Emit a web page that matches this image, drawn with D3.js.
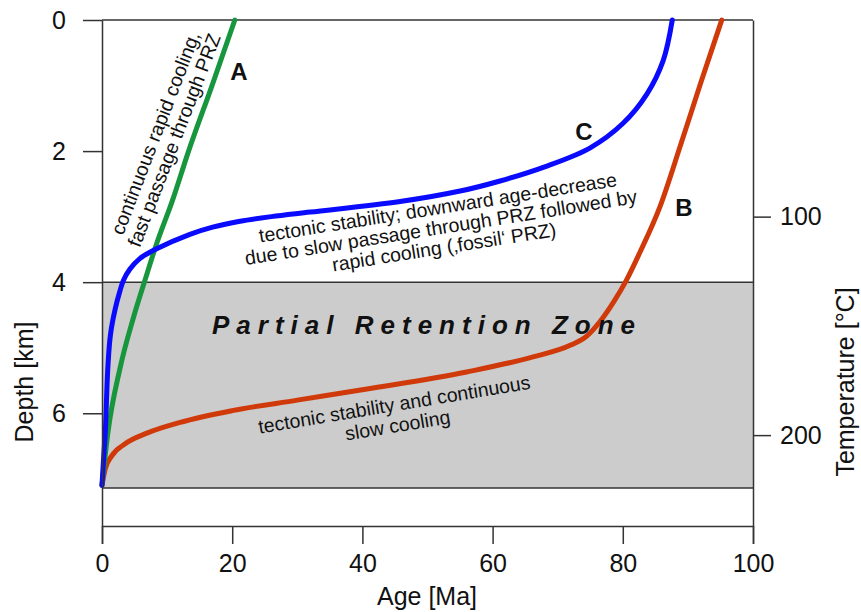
<!DOCTYPE html>
<html>
<head>
<meta charset="utf-8">
<script src="https://cdn.jsdelivr.net/npm/d3@7"></script>
<style>
  body { margin: 0; background: #fff; }
  svg text { font-family: 'Liberation Sans', Arial, sans-serif; fill: #111; }
</style>
</head>
<body>
<div id="chart"></div>
<script>
// cooling paths, [age Ma, depth km]
let curveA = [[0, 7.1], [0.9, 6.3], [2.8, 5.3], [4.8, 4.55], [6.6, 3.97], [8.4, 3.41], [10.8, 2.76], [13.3, 2.0], [16.9, 1.0], [20.4, 0]]
let curveB = [[0, 7.1], [0.5, 6.85], [1.5, 6.65], [3.5, 6.47], [7, 6.3], [12, 6.14], [20, 5.96], [30, 5.8], [40.7, 5.63], [56, 5.37], [66.2, 5.14], [72, 4.96], [74.5, 4.82], [76.5, 4.6], [78.6, 4.3], [80.5, 3.98], [82.6, 3.55], [85.7, 2.85], [88.9, 1.9], [92, 0.95], [95.2, 0]]
let curveC = [[0, 7.1], [0.3, 6.6], [0.5, 6.3], [0.9, 5.3], [1.3, 4.8], [2.0, 4.42], [2.8, 4.12], [3.3, 3.97], [4.3, 3.8], [5.8, 3.64], [8.4, 3.49], [13.5, 3.27], [17, 3.16], [21.2, 3.07], [26, 3.0], [32, 2.93], [45.8, 2.77], [55, 2.61], [61, 2.46], [68, 2.24], [75, 1.95], [80, 1.58], [83.7, 1.13], [86.2, 0.62], [87.6, 0]]

let ageTicks = [0, 20, 40, 60, 80, 100]
let depthTicks = [0, 2, 4, 6]
let tempTicks = [100, 200]
let przTop = 4
let przBottom = 7.14
let depthMax = 7.72
let surfaceTemp = 10
let gradient = 30 // °C per km

let svg = d3
  .select('#chart')
  .append('svg')
  .attr('width', 861)
  .attr('height', 612)

let xPositionScale = d3.scaleLinear().domain([0, 100]).range([102, 753])
let yPositionScale = d3.scaleLinear().domain([0, depthMax]).range([20, 526])
let tempScale = d3
  .scaleLinear()
  .domain([surfaceTemp, surfaceTemp + gradient * depthMax])
  .range([20, 526])

// partial retention zone
svg
  .append('rect')
  .attr('x', xPositionScale(0))
  .attr('y', yPositionScale(przTop))
  .attr('width', xPositionScale(100) - xPositionScale(0))
  .attr('height', yPositionScale(przBottom) - yPositionScale(przTop))
  .attr('fill', '#cccccc')

svg
  .selectAll('.prz-line')
  .data([przTop, przBottom, 0])
  .enter()
  .append('line')
  .attr('x1', xPositionScale(0))
  .attr('x2', xPositionScale(100))
  .attr('y1', d => yPositionScale(d))
  .attr('y2', d => yPositionScale(d))
  .attr('stroke', '#333')
  .attr('stroke-width', 1.5)

let line = d3
  .line()
  .x(d => xPositionScale(d[0]))
  .y(d => yPositionScale(d[1]))

let paths = [
  { data: curveB, color: '#d03a0a', curve: d3.curveMonotoneX },
  { data: curveA, color: '#17963d', curve: d3.curveMonotoneX },
  { data: curveC, color: '#0a0aff', curve: d3.curveCatmullRom.alpha(0.5) }
]

svg
  .selectAll('.path')
  .data(paths)
  .enter()
  .append('path')
  .attr('d', d => line.curve(d.curve)(d.data))
  .attr('fill', 'none')
  .attr('stroke', d => d.color)
  .attr('stroke-width', 5)
  .attr('stroke-linecap', 'round')

// axes
let xAxis = d3
  .axisBottom(xPositionScale)
  .tickValues(ageTicks)
  .tickSize(18)
  .tickPadding(10)
svg
  .append('g')
  .attr('transform', 'translate(0,' + yPositionScale(depthMax) + ')')
  .call(xAxis)

let yAxis = d3
  .axisLeft(yPositionScale)
  .tickValues(depthTicks)
  .tickSize(19)
  .tickSizeOuter(0)
  .tickPadding(17)
svg
  .append('g')
  .attr('transform', 'translate(' + xPositionScale(0) + ',0)')
  .call(yAxis)

let tAxis = d3
  .axisRight(tempScale)
  .tickValues(tempTicks)
  .tickSize(18)
  .tickSizeOuter(0)
  .tickPadding(9)
svg
  .append('g')
  .attr('transform', 'translate(' + xPositionScale(100) + ',0)')
  .call(tAxis)

svg.selectAll('.domain, .tick line').attr('stroke', '#333').attr('stroke-width', 1.5)
svg
  .selectAll('.tick text')
  .attr('font-size', 25)
  .attr('font-family', "'Liberation Sans', Arial, sans-serif")
  .attr('fill', '#111')

// axis titles
svg
  .append('text')
  .attr('x', 427)
  .attr('y', 605)
  .attr('text-anchor', 'middle')
  .attr('font-size', 25)
  .text('Age [Ma]')

svg
  .append('text')
  .attr('transform', 'translate(24,382) rotate(-90)')
  .attr('text-anchor', 'middle')
  .attr('dominant-baseline', 'central')
  .attr('font-size', 25)
  .text('Depth [km]')

svg
  .append('text')
  .attr('transform', 'translate(845,382) rotate(-90)')
  .attr('text-anchor', 'middle')
  .attr('dominant-baseline', 'central')
  .attr('font-size', 25)
  .text('Temperature [°C]')

// zone label
svg
  .append('text')
  .attr('x', 212)
  .attr('y', 334)
  .attr('font-size', 26)
  .attr('font-weight', 'bold')
  .attr('font-style', 'italic')
  .attr('textLength', 423)
  .attr('lengthAdjust', 'spacing')
  .text('Partial Retention Zone')

// path letters
let letters = [
  { name: 'A', x: 239, y: 71 },
  { name: 'B', x: 684, y: 207 },
  { name: 'C', x: 584, y: 131 }
]
svg
  .selectAll('.letter')
  .data(letters)
  .enter()
  .append('text')
  .attr('x', d => d.x)
  .attr('y', d => d.y)
  .attr('text-anchor', 'middle')
  .attr('dominant-baseline', 'central')
  .attr('font-size', 24)
  .attr('font-weight', 'bold')
  .text(d => d.name)

// annotations
let notes = [
  { x: 164.5, y: 136.5, angle: -69, lines: ['continuous rapid cooling,', 'fast passage through PRZ'], offsets: [-10, 10], baseline: 'central' },
  { x: 442, y: 234, angle: -9, lines: ['tectonic stability; downward age-decrease', 'due to slow passage through PRZ followed by', 'rapid cooling (‚fossil‘ PRZ)'], offsets: [-20, 0, 20], baseline: 'auto' },
  { x: 397, y: 421.5, angle: -9.4, lines: ['tectonic stability and continuous', 'slow cooling'], offsets: [-10.5, 10.5], baseline: 'auto' }
]

notes.forEach(n => {
  let g = svg
    .append('g')
    .attr('transform', 'translate(' + n.x + ',' + n.y + ') rotate(' + n.angle + ')')
  g.selectAll('text')
    .data(n.lines)
    .enter()
    .append('text')
    .attr('x', 0)
    .attr('y', (d, i) => n.offsets[i])
    .attr('text-anchor', 'middle')
    .attr('dominant-baseline', n.baseline)
    .attr('font-size', 19.5)
    .text(d => d)
})
</script>
</body>
</html>
